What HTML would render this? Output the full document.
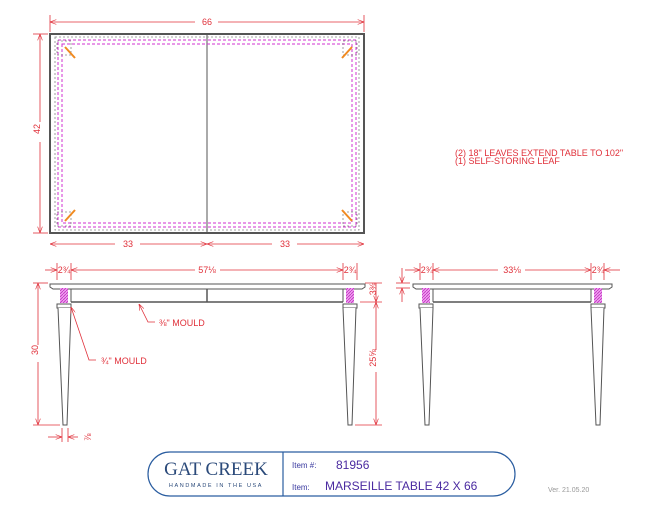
<!DOCTYPE html>
<html><head><style>
body{margin:0;background:#fff;}
svg{display:block;font-family:"Liberation Sans",sans-serif;}
.r{stroke:#e0303a;stroke-width:0.8;fill:none}
.rt{fill:#e0303a;font-size:9px}
.k{stroke:#555;fill:none;stroke-width:1}
.m{stroke:#d030d0;fill:none;stroke-width:1;stroke-dasharray:3,2}
.g{stroke:#888;fill:none;stroke-width:0.8;stroke-dasharray:2,2}
</style></head><body>
<svg width="656" height="507" viewBox="0 0 656 507">
<defs><marker id="a" markerWidth="8" markerHeight="6" refX="8" refY="3" orient="auto-start-reverse"><path d="M0,0L8,3L0,6" fill="none" stroke="#e0303a" stroke-width="0.8"/></marker>
<pattern id="h" width="3" height="3" patternUnits="userSpaceOnUse"><rect width="3" height="3" fill="#f0a0f0"/><path d="M0,3L3,0" stroke="#c030c0" stroke-width="0.8"/></pattern></defs>
<!-- top view -->
<rect x="50" y="34" width="314" height="199" fill="#fff" stroke="#555" stroke-width="2"/>
<line x1="207" y1="34" x2="207" y2="233" class="k"/>
<rect x="55" y="37" width="304" height="193" class="g"/>
<rect x="58" y="40" width="298" height="187" class="m"/>
<rect x="62" y="44" width="290" height="179" class="m"/>
<g class="g"><rect x="57" y="41" width="14" height="14"/><rect x="343" y="41" width="14" height="14"/><rect x="57" y="212" width="14" height="14"/><rect x="343" y="212" width="14" height="14"/></g>
<g stroke="#f08a20" stroke-width="2"><line x1="65" y1="47" x2="75" y2="58"/><line x1="352" y1="47" x2="342" y2="58"/><line x1="65" y1="221" x2="75" y2="210"/><line x1="352" y1="221" x2="342" y2="210"/></g>
<line x1="50" y1="15" x2="50" y2="32" class="r"/><line x1="364" y1="15" x2="364" y2="32" class="r"/>
<line x1="50" y1="22" x2="195" y2="22" class="r" marker-start="url(#a)"/><line x1="218" y1="22" x2="364" y2="22" class="r" marker-end="url(#a)"/>
<text x="207" y="25" class="rt" text-anchor="middle">66</text>
<line x1="33" y1="34" x2="48" y2="34" class="r"/><line x1="33" y1="233" x2="48" y2="233" class="r"/>
<line x1="40" y1="34" x2="40" y2="122" class="r" marker-start="url(#a)"/><line x1="40" y1="142" x2="40" y2="233" class="r" marker-end="url(#a)"/>
<text x="43" y="132" class="rt" text-anchor="middle" transform="rotate(-90 40 132)">42</text>
<line x1="50" y1="244" x2="115" y2="244" class="r" marker-start="url(#a)"/><line x1="140" y1="244" x2="207" y2="244" class="r" marker-end="url(#a)"/>
<line x1="207" y1="244" x2="272" y2="244" class="r" marker-start="url(#a)"/><line x1="297" y1="244" x2="364" y2="244" class="r" marker-end="url(#a)"/>
<text x="128" y="247" class="rt" text-anchor="middle">33</text><text x="285" y="247" class="rt" text-anchor="middle">33</text>
<text x="455" y="156" class="rt" font-size="7">(2) 18" LEAVES EXTEND TABLE TO 102"</text>
<text x="455" y="164" class="rt" font-size="7">(1) SELF-STORING LEAF</text>
<!-- front view -->
<path d="M50,284 H365 V287 L362,289 H53 L50,287Z" fill="#fff" stroke="#555"/>
<line x1="71" y1="302" x2="343" y2="302" stroke="#555" stroke-width="1.5"/>
<line x1="207" y1="289" x2="207" y2="302" stroke="#555" stroke-width="1.5"/>
<rect x="60" y="288" width="8" height="15" fill="url(#h)"/>
<rect x="346" y="288" width="8" height="15" fill="url(#h)"/>
<rect x="57" y="304" width="14" height="4" fill="#fff" stroke="#555"/>
<rect x="343" y="304" width="14" height="4" fill="#fff" stroke="#555"/>
<path d="M58,308 L63,425 H67 L71,308" fill="#fff" stroke="#555"/>
<path d="M343,308 L348,425 H352 L356,308" fill="#fff" stroke="#555"/>
<line x1="71" y1="289" x2="71" y2="302" class="k"/><line x1="343" y1="289" x2="343" y2="302" class="k"/>
<line x1="57" y1="263" x2="57" y2="280" class="r"/><line x1="71" y1="263" x2="71" y2="280" class="r"/>
<line x1="343" y1="263" x2="343" y2="280" class="r"/><line x1="357" y1="263" x2="357" y2="280" class="r"/>
<line x1="45" y1="270" x2="57" y2="270" class="r" marker-end="url(#a)"/>
<line x1="71" y1="270" x2="195" y2="270" class="r" marker-start="url(#a)"/><line x1="220" y1="270" x2="343" y2="270" class="r" marker-end="url(#a)"/>
<text x="207" y="273" class="rt" text-anchor="middle">57⅛</text>
<text x="64" y="273" class="rt" font-size="7" text-anchor="middle">2¾</text><text x="350" y="273" class="rt" font-size="7" text-anchor="middle">2¾</text>
<line x1="33" y1="283" x2="48" y2="283" class="r"/><line x1="33" y1="425" x2="60" y2="425" class="r"/>
<line x1="38" y1="283" x2="38" y2="345" class="r" marker-start="url(#a)"/><line x1="38" y1="362" x2="38" y2="425" class="r" marker-end="url(#a)"/>
<text x="41" y="353" class="rt" text-anchor="middle" transform="rotate(-90 38 353)">30</text>
<line x1="48" y1="437" x2="62" y2="437" class="r" marker-end="url(#a)"/><line x1="68" y1="437" x2="78" y2="437" class="r" marker-start="url(#a)"/>
<line x1="62" y1="428" x2="62" y2="442" class="r"/><line x1="68" y1="428" x2="68" y2="442" class="r"/>
<text x="84" y="440" class="rt" font-size="7" transform="rotate(-90 88 437)">⅞</text>
<path d="M155,322 H148 L139,304" class="r" marker-end="url(#a)"/>
<text x="159" y="326" class="rt" font-size="7">⅜" MOULD</text>
<path d="M96,360 H89 L71,307" class="r" marker-end="url(#a)"/>
<text x="101" y="364" class="rt" font-size="7">¾" MOULD</text>
<line x1="365" y1="283" x2="382" y2="283" class="r"/><line x1="360" y1="302" x2="382" y2="302" class="r"/><line x1="355" y1="425" x2="382" y2="425" class="r"/>
<line x1="376" y1="283" x2="376" y2="302" class="r" marker-end="url(#a)"/>
<line x1="376" y1="302" x2="376" y2="350" class="r" marker-start="url(#a)"/><line x1="376" y1="372" x2="376" y2="425" class="r" marker-end="url(#a)"/>
<text x="379" y="292" class="rt" font-size="7" text-anchor="middle" transform="rotate(-90 376 292)">3⅜</text>
<text x="379" y="361" class="rt" font-size="8" text-anchor="middle" transform="rotate(-90 376 361)">25⅝</text>
<!-- side view -->
<path d="M413,284 H612 V287 L609,289 H416 L413,287Z" fill="#fff" stroke="#555"/>
<line x1="433" y1="302" x2="591" y2="302" stroke="#555" stroke-width="1.5"/>
<line x1="433" y1="289" x2="433" y2="302" class="k"/><line x1="591" y1="289" x2="591" y2="302" class="k"/>
<rect x="422" y="288" width="8" height="15" fill="url(#h)"/>
<rect x="594" y="288" width="8" height="15" fill="url(#h)"/>
<rect x="419" y="304" width="14" height="4" fill="#fff" stroke="#555"/>
<rect x="591" y="304" width="14" height="4" fill="#fff" stroke="#555"/>
<path d="M420,308 L425,425 H429 L433,308" fill="#fff" stroke="#555"/>
<path d="M591,308 L596,425 H600 L604,308" fill="#fff" stroke="#555"/>
<line x1="420" y1="263" x2="420" y2="280" class="r"/><line x1="433" y1="263" x2="433" y2="280" class="r"/>
<line x1="591" y1="263" x2="591" y2="280" class="r"/><line x1="604" y1="263" x2="604" y2="280" class="r"/>
<line x1="405" y1="270" x2="420" y2="270" class="r" marker-end="url(#a)"/>
<line x1="433" y1="270" x2="498" y2="270" class="r" marker-start="url(#a)"/><line x1="525" y1="270" x2="591" y2="270" class="r" marker-end="url(#a)"/>
<line x1="604" y1="270" x2="620" y2="270" class="r" marker-start="url(#a)"/>
<text x="512" y="273" class="rt" text-anchor="middle">33⅛</text>
<text x="427" y="273" class="rt" font-size="7" text-anchor="middle">2¾</text><text x="598" y="273" class="rt" font-size="7" text-anchor="middle">2¾</text>
<line x1="396" y1="283" x2="410" y2="283" class="r"/><line x1="396" y1="288" x2="410" y2="288" class="r"/>
<line x1="402" y1="268" x2="402" y2="283" class="r" marker-end="url(#a)"/><line x1="402" y1="288" x2="402" y2="302" class="r" marker-start="url(#a)"/>
<!-- title block -->
<rect x="148" y="452" width="367" height="44" rx="22" fill="#fff" stroke="#2a5da0" stroke-width="1.2"/>
<line x1="283" y1="452" x2="283" y2="496" stroke="#2a5da0" stroke-width="1.2"/>
<text x="216" y="475" text-anchor="middle" font-family="Liberation Serif,serif" font-size="19" fill="#2b4a7a">GAT CREEK</text>
<text x="216" y="487" text-anchor="middle" font-size="5.5" fill="#2b4a7a" letter-spacing="1.6">HANDMADE IN THE USA</text>
<text x="292" y="468" font-size="8" fill="#3a3aa0">Item #:</text>
<text x="336" y="469" font-size="12" fill="#4a2aa0">81956</text>
<text x="292" y="490" font-size="8" fill="#3a3aa0">Item:</text>
<text x="325" y="490" font-size="12" fill="#4a2aa0">MARSEILLE TABLE 42 X 66</text>
<text x="548" y="492" font-size="7" fill="#999">Ver. 21.05.20</text>
</svg>
</body></html>
